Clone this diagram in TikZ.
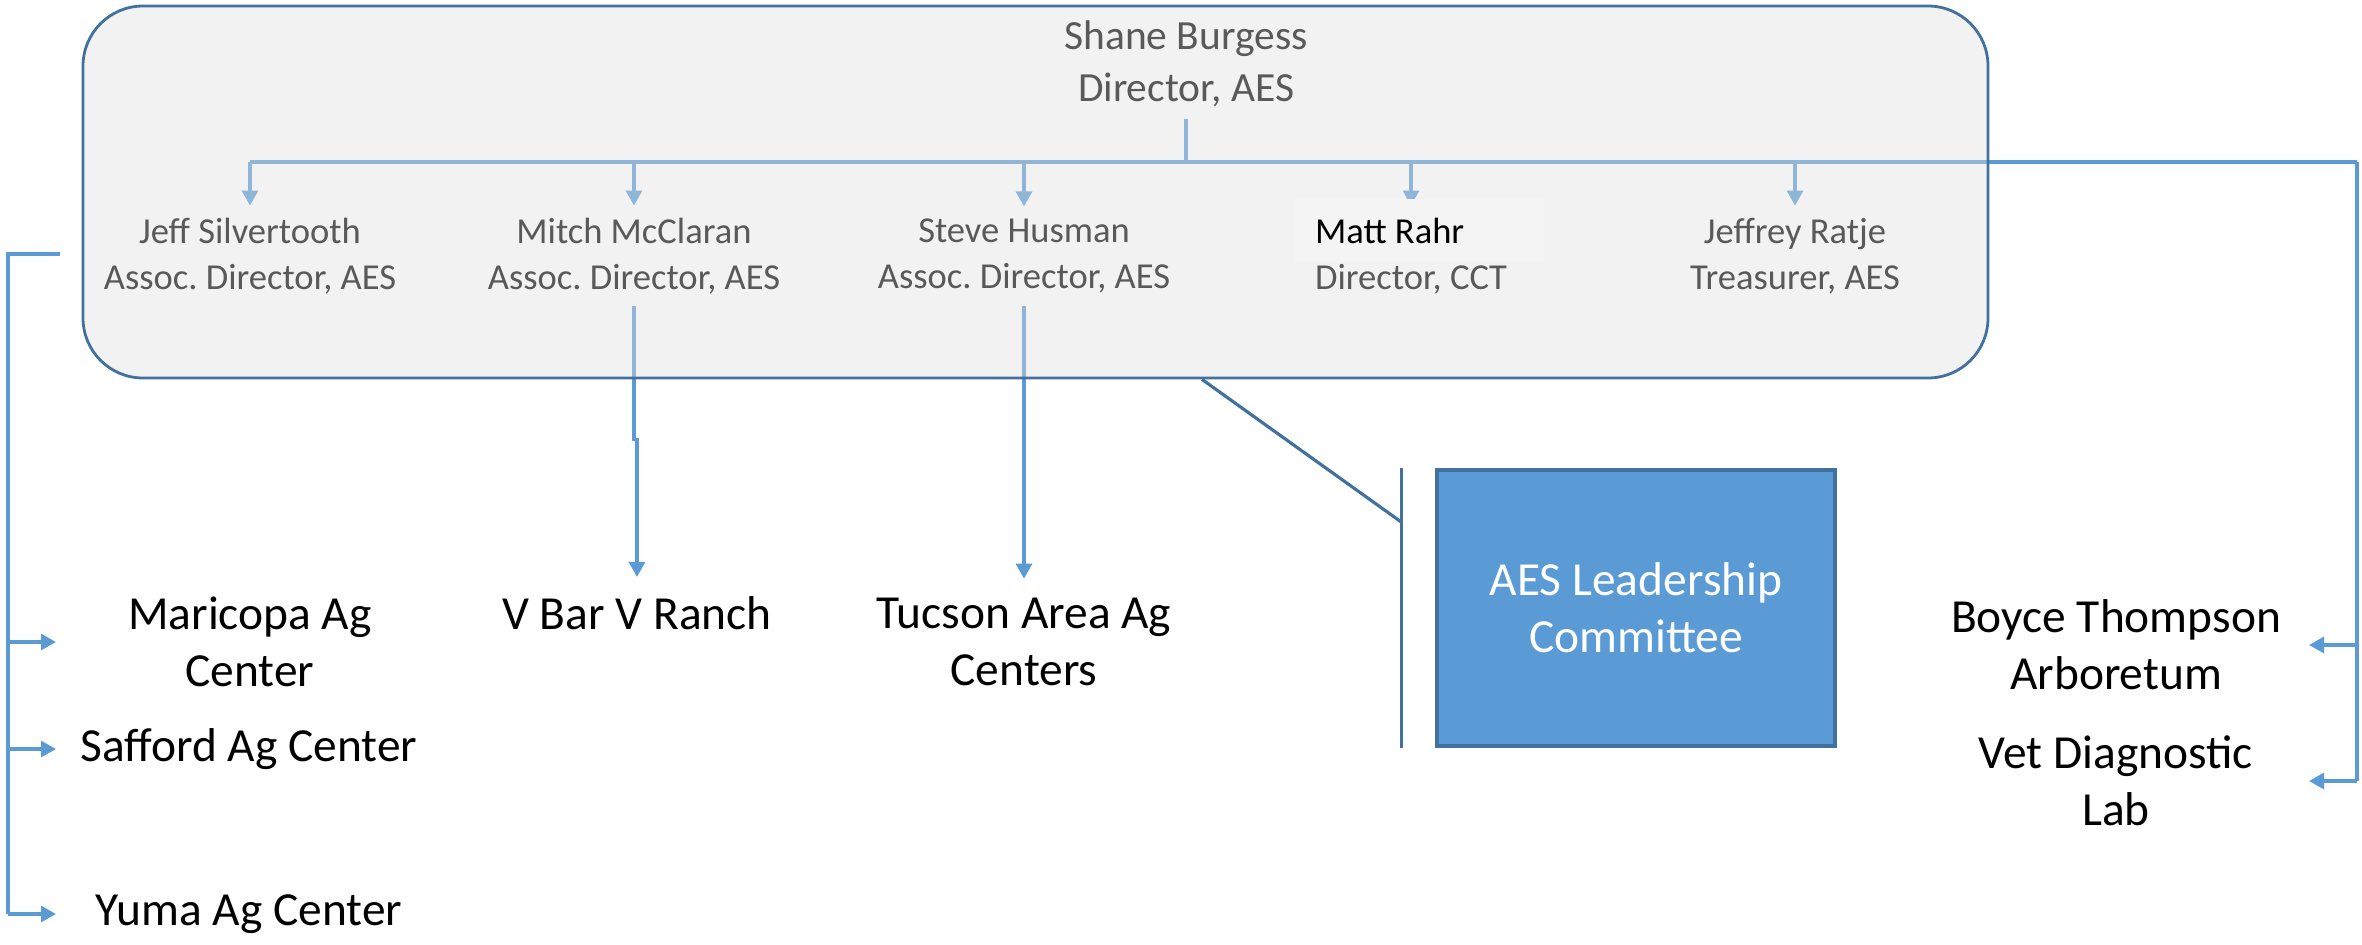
\documentclass[tikz,border=0pt]{standalone}
\usepackage{fontspec}
\setmainfont{Carlito}
\frenchspacing
\usetikzlibrary{arrows.meta}
\definecolor{aesblue}{HTML}{5B9BD5}
\definecolor{aesdark}{HTML}{41719C}
\definecolor{aesgray}{HTML}{595959}
\definecolor{panelfill}{HTML}{DEDEDE}
\definecolor{faintfill}{HTML}{F4F4F4}
\pgfdeclarelayer{connect}
\pgfdeclarelayer{panel}
\pgfsetlayers{connect,panel,main}
\tikzset{
  conn/.style={aesblue, line width=0.9pt},
  arr/.style={conn, -{Triangle[length=1.5mm,width=1.6mm]}},
  member/.style={align=center, text=aesgray, font=\fontsize{10.4}{13.1}\selectfont},
  site/.style={align=center, font=\fontsize{13.5}{16.2}\selectfont},
  callout/.style={aesdark, line width=0.9pt},
}
\begin{document}
\begin{tikzpicture}
  \useasboundingbox (0,0) rectangle (23.62,-9.44);
  % director and staff
  \node[member, font=\fontsize{11.8}{14.8}\selectfont] (shane) at (11.86,-0.64) {Shane Burgess\\Director, AES};
  \node[member] (jeff) at (2.50,-2.56) {Jeff Silvertooth\\Assoc. Director, AES};
  \node[member] (mitch) at (6.34,-2.56) {Mitch McClaran\\Assoc. Director, AES};
  \node[member] (steve) at (10.24,-2.56) {Steve Husman\\Assoc. Director, AES};
  \node[member, align=left] (matt) at (14.11,-2.56) {\textcolor{black}{Matt Rahr}\\Director, CCT};
  \node[member] (jeffrey) at (17.95,-2.56) {Jeffrey Ratje\\Treasurer, AES};
  % sites
  \node[site] (maricopa) at (2.50,-6.42) {Maricopa Ag\\Center};
  \node[site] (safford) at (2.49,-7.49) {Safford Ag Center};
  \node[site] (yuma) at (2.49,-9.14) {Yuma Ag Center};
  \node[site] (vbar) at (6.37,-6.13) {V Bar V Ranch};
  \node[site] (tucson) at (10.24,-6.42) {Tucson Area Ag\\Centers};
  \node[site] (boyce) at (21.16,-6.45) {Boyce Thompson\\Arboretum};
  \node[site] (vet) at (21.16,-7.81) {Vet Diagnostic\\Lab};
  \node[site, text=white, fill=aesblue, draw=aesdark, line width=1pt,
        minimum width=3.98cm, minimum height=2.76cm] (lead) at (16.36,-6.08) {AES Leadership\\Committee};

  \coordinate (bar) at (0,-1.62);
  \coordinate (rtop) at (23.57,-1.62);
  \coordinate (lstart) at (0.60,-2.54);

  \begin{pgfonlayer}{panel}
    \node[draw=aesdark, line width=0.8pt, fill=panelfill, fill opacity=0.4, draw opacity=1,
          rounded corners=0.6cm, minimum width=19.05cm, minimum height=3.72cm] (panel) at (10.355,-1.92) {};
    \fill[faintfill] (12.93,-1.99) rectangle (15.44,-2.63);
  \end{pgfonlayer}

  \begin{pgfonlayer}{connect}
    \draw[conn] (shane.south) -- (shane.south |- bar);
    \draw[conn] (jeff |- bar) -- (rtop);
    \foreach \n in {jeff,mitch,steve,matt,jeffrey}
      \draw[arr] (\n |- bar) -- (\n.north);
    \draw[arr, shorten >=2pt] (mitch.south) -- ++(0,-1.33) -| (vbar.north);
    \draw[arr, shorten >=2pt] (steve.south) -- (tucson.north);
    % right bracket
    \draw[conn] (rtop) -- (rtop |- vet);
    \foreach \n in {boyce,vet}
      \draw[arr] (rtop |- \n) -- ++(-0.48,0);
    % left bracket
    \draw[conn] (lstart) -- ++(-0.52,0) coordinate (lcorner) -- (lcorner |- yuma);
    \foreach \n in {maricopa,safford,yuma}
      \draw[arr] (lcorner |- \n) -- ++(0.48,0);
  \end{pgfonlayer}

  % committee callout
  \draw[callout] ([xshift=-0.34cm]lead.north west) coordinate (ctop) -- ([xshift=-0.34cm]lead.south west);
  \draw[callout] (panel.south -| 12.02,0) -- (ctop |- 0,-5.22);
\end{tikzpicture}
\end{document}
